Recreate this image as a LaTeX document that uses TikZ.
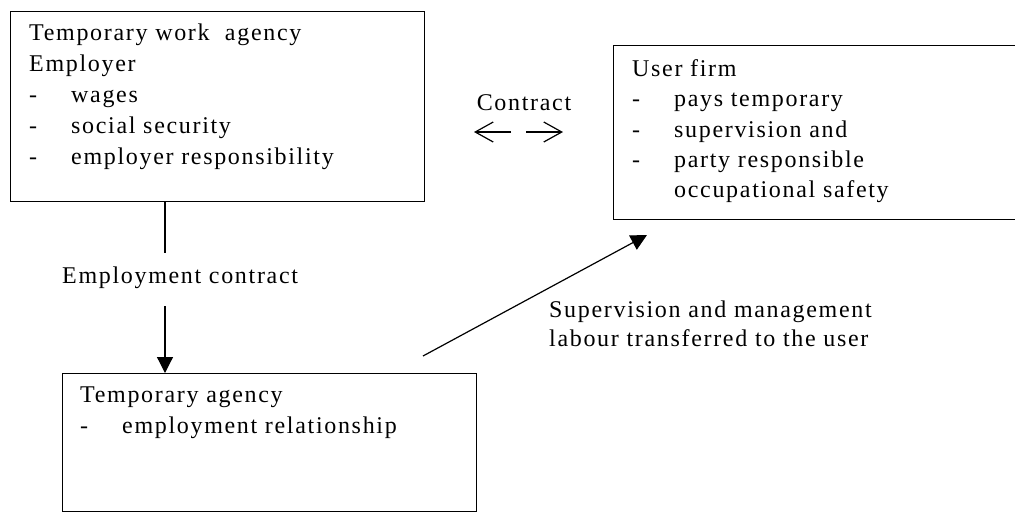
\documentclass[tikz,border=0pt]{standalone}
\usepackage{fontspec}
\setmainfont[LetterSpace=7]{Liberation Serif}
\usetikzlibrary{arrows.meta}
\usetikzlibrary{calc}

\newcommand{\dashItem}[1]{\makebox[42pt][l]{-}#1}
\newcommand{\padItem}[1]{\hspace*{42pt}#1}

\begin{document}
\begin{tikzpicture}[x = 1pt, y = -1pt, font = \fontsize{24}{31}\selectfont]
	\tikzstyle{boxStyle}=[shape = rectangle, draw, line width = 1.4pt, inner sep = 0pt, anchor = north west]
	\tikzstyle{textStyle}=[inner sep = 0pt, anchor = north west, align = left]
	\tikzstyle{arrowStyle}=[line width = 1.2pt, -{Triangle[length = 16pt, width = 16pt]}]
	\tikzstyle{barbStyle}=[line width = 1.2pt, -{Straight Barb[length = 18pt, width = 20pt]}]
	\clip (0,0) rectangle (1015,512);
	% the three parties
	\node[boxStyle, minimum width = 414pt, minimum height = 190pt] (agency) at (10,11) {};
	\node[boxStyle, minimum width = 470pt, minimum height = 174pt] (user) at (613,45) {};
	\node[boxStyle, minimum width = 414pt, minimum height = 138pt] (worker) at (62,373) {};
	\node[textStyle] (agencyText) at (29,23.5) {Temporary work\ \ agency\\ Employer\\ \dashItem{wages}\\ \dashItem{social security}\\ \dashItem{employer responsibility}};
	\node[textStyle, font = \fontsize{24}{30.3}\selectfont] (userText) at (632,59.5) {User firm\\ \dashItem{pays temporary}\\ \dashItem{supervision and}\\ \dashItem{party responsible}\\ \padItem{occupational safety}};
	\node[textStyle] (workerText) at (80,386.5) {Temporary agency\\ \dashItem{employment relationship}};
	% labels
	\node[inner sep = 0pt, anchor = base] (contract) at (524,110) {Contract};
	\node[inner sep = 0pt, anchor = base west] (employment) at (62,283) {Employment contract};
	\node[textStyle, font = \fontsize{24}{29}\selectfont] (supervision) at (549,300.5) {Supervision and management\\ labour transferred to the user};
	% connectors
	\coordinate (cLeftFrom) at (511,132);
	\coordinate (cLeftTo) at (474,132);
	\coordinate (cRightFrom) at (526,132);
	\coordinate (cRightTo) at (563,132);
	\draw[barbStyle] (cLeftFrom) -- (cLeftTo);
	\draw[barbStyle] (cRightFrom) -- (cRightTo);
	\coordinate (empLine) at (165,0);
	\draw[line width = 1.2pt] (empLine |- agency.south) -- ++(0,51);
	\draw[arrowStyle] ($(empLine |- agency.south)+(0,104)$) -- (empLine |- worker.north);
	\coordinate (supFrom) at (423,356);
	\coordinate (supTo) at (647,235);
	\draw[arrowStyle] (supFrom) -- (supTo);
\end{tikzpicture}
\end{document}
